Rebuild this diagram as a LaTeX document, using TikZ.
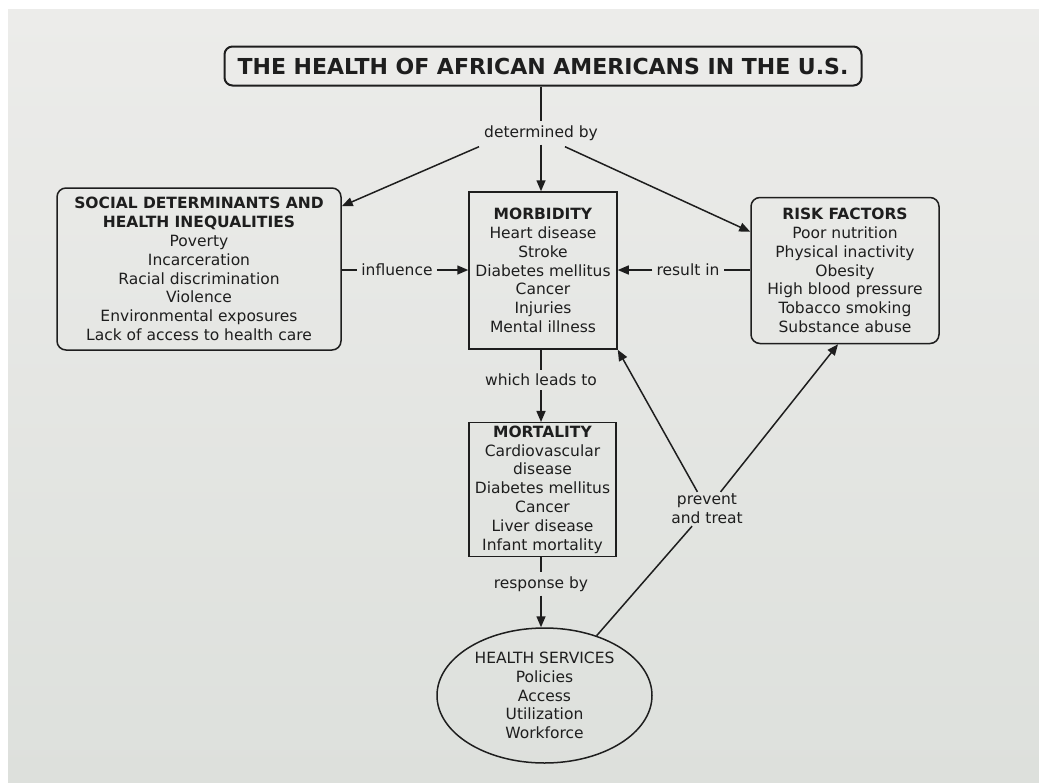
\documentclass[tikz,border=0pt]{standalone}
\usepackage{fontspec}
\setmainfont{DejaVu Sans}
\usetikzlibrary{shapes.geometric,arrows.meta}
\definecolor{bgtop}{HTML}{ECECEA}
\definecolor{bgbot}{HTML}{DDE0DC}
\definecolor{ink}{HTML}{1E1E1E}
\tikzset{
  x=1pt,y=-1pt,
  txt/.style={font=\fontsize{15.5}{18.8}\selectfont, text=ink, align=center},
  boxr/.style={txt, draw=ink, line width=1.5pt, rounded corners=9pt, inner sep=3pt},
  boxs/.style={txt, draw=ink, line width=1.5pt, inner sep=3pt},
  lbl/.style={txt, inner sep=4pt},
  conn/.style={draw=ink, line width=1.5pt},
  arr/.style={conn, -{Triangle[length=11pt,width=9pt]}},
}
\begin{document}
\begin{tikzpicture}
\fill[white] (0,0) rectangle (1039,782);
\shade[top color=bgtop, bottom color=bgbot] (8,9) rectangle (1039,782);
\useasboundingbox (0,0) rectangle (1039,782);

\node[boxr, line width=2pt, rounded corners=8pt, minimum width=637pt, minimum height=39pt,
      font=\fontsize{22}{24}\selectfont\bfseries] (title) at (543,66)
  {THE HEALTH OF AFRICAN AMERICANS IN THE U.S.};

\node[boxr, minimum width=284pt, minimum height=162pt] (soc) at (199,269)
  {\textbf{SOCIAL DETERMINANTS AND}\\ \textbf{HEALTH INEQUALITIES}\\ Poverty\\ Incarceration\\ Racial discrimination\\ Violence\\ Environmental exposures\\ Lack of access to health care};

\node[boxs, minimum width=148pt, minimum height=157pt] (mor) at (543,270.5)
  {\textbf{MORBIDITY}\\ Heart disease\\ Stroke\\ Diabetes mellitus\\ Cancer\\ Injuries\\ Mental illness};

\node[boxr, minimum width=188pt, minimum height=146pt] (risk) at (845,270.5)
  {\textbf{RISK FACTORS}\\ Poor nutrition\\ Physical inactivity\\ Obesity\\ High blood pressure\\ Tobacco smoking\\ Substance abuse};

\node[boxs, minimum width=147pt, minimum height=133pt] (mort) at (542.5,489.5)
  {\textbf{MORTALITY}\\ Cardiovascular\\ disease\\ Diabetes mellitus\\ Cancer\\ Liver disease\\ Infant mortality};

\node[ellipse, txt, draw=ink, line width=1.5pt, inner sep=0pt, minimum width=215pt, minimum height=135pt] (hs) at (544.5,695.5)
  {HEALTH SERVICES\\ Policies\\ Access\\ Utilization\\ Workforce};

\node[lbl] (det) at (541,133) {determined by};
\node[lbl] (inf) at (397,270) {influence};
\node[lbl] (res) at (688,270) {result in};
\node[lbl] (lead) at (541,380) {which leads to};
\node[lbl] (resp) at (541,584) {response by};
\node[lbl, inner sep=2pt] (pt) at (707,509) {prevent\\ and treat};

\draw[conn] (title.south -| det) -- (det.north);
\draw[arr] (det.south) -- (det.south |- mor.north);
\draw[arr] ([xshift=-62pt,yshift=-2pt]det.south) -- ([yshift=-19pt]soc.north east);
\draw[arr] ([xshift=24pt,yshift=-2pt]det.south) -- ([yshift=-35pt]risk.north west);

\draw[conn] (soc.east |- inf) -- (inf.west);
\draw[arr] (inf.east) -- (mor.west |- inf);

\draw[conn] (risk.west |- res) -- (res.east);
\draw[arr] (res.west) -- (mor.east |- res);

\draw[conn] (mor.south -| lead) -- (lead.north);
\draw[arr] (lead.south) -- (lead.south |- mort.north);

\draw[conn] (mort.south -| resp) -- (resp.north);
\draw[arr] (resp.south) -- (resp.south |- hs.north);

\draw[conn] (hs) -- (pt);
\draw[arr] (pt) -- (mor.south east);
\draw[arr] (pt) -- ([xshift=-7pt]risk.south);
\end{tikzpicture}
\end{document}
